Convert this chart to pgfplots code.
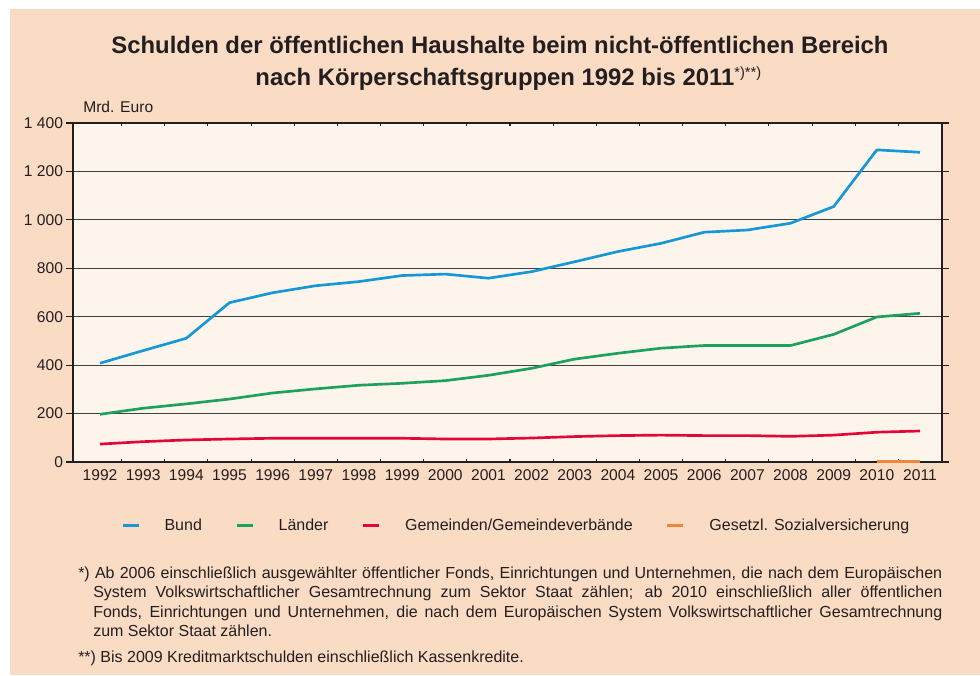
\documentclass[border=0pt]{standalone}
\usepackage{pgfplots}
\pgfplotsset{compat=1.18}
\usepackage{fontspec}
\setmainfont{Liberation Sans}
\definecolor{peach}{RGB}{250,219,196}
\definecolor{plotbg}{RGB}{253,244,235}
\definecolor{cBund}{RGB}{22,152,214}
\definecolor{cLaender}{RGB}{29,161,95}
\definecolor{cGem}{RGB}{226,6,58}
\definecolor{cSoz}{RGB}{240,134,60}
\definecolor{txt}{RGB}{35,31,32}
\begin{document}
\begin{tikzpicture}
\useasboundingbox (0,0) rectangle (735pt,506.25pt);
\fill[white] (0,0) rectangle (735pt,506.25pt);
\fill[peach] (7.5pt,0) rectangle (735pt,499.5pt);
% title
\node[anchor=base, font=\fontsize{17.9}{20}\selectfont\bfseries, text=txt] at (375pt,466pt)
  {Schulden der öffentlichen Haushalte beim nicht-öffentlichen Bereich};
\node[anchor=base, font=\fontsize{17.9}{20}\selectfont\bfseries, text=txt] at (381.5pt,442pt)
  {nach Körperschaftsgruppen 1992 bis 2011\textsuperscript{\normalfont\fontsize{11}{11}\selectfont *)**)}};
\node[anchor=base west, inner sep=0pt, font=\fontsize{11.7}{12}\selectfont, text=txt] at (62.25pt,422pt) {Mrd. Euro};
\begin{axis}[
  at={(54.75pt,159.75pt)}, anchor=south west,
  scale only axis, width=651.75pt, height=254.25pt,
  xmin=1991.374, xmax=2011.51, ymin=0, ymax=1400,
  axis background/.style={fill=plotbg},
  axis line style={line width=1.1pt, color=txt},
  ytick={0,200,400,600,800,1000,1200,1400},
  yticklabels={0,200,400,600,800,{1 000},{1 200},{1 400}},
  xtick={1992,1993,1994,1995,1996,1997,1998,1999,2000,2001,2002,2003,2004,2005,2006,2007,2008,2009,2010,2011},
  xticklabels={1992,1993,1994,1995,1996,1997,1998,1999,2000,2001,2002,2003,2004,2005,2006,2007,2008,2009,2010,2011},
  minor xtick={1992.5,1993.5,1994.5,1995.5,1996.5,1997.5,1998.5,1999.5,2000.5,2001.5,2002.5,2003.5,2004.5,2005.5,2006.5,2007.5,2008.5,2009.5,2010.5},
  major x tick style={draw=none},
  minor x tick style={line width=0.8pt, color=txt},
  minor tick length=2.5pt,
  major tick length=5pt,
  ytick align=outside, xtick align=inside,
  y tick style={line width=0.8pt, color=txt},
  ymajorgrids,
  major grid style={line width=0.7pt, color=black!75},
  ticklabel style={font=\fontsize{11.7}{12}\selectfont, text=txt},
  yticklabel style={xshift=1pt},
  xticklabel style={yshift=-2pt},
  legend style={at={(0.0552,-0.188)}, anchor=west, draw=none, fill=none, inner sep=0pt,
    font=\fontsize{12}{13}\selectfont, text=txt, legend columns=4,
    nodes={inner sep=0pt},
    /tikz/every odd column/.append style={column sep=18.5pt},
    /tikz/every even column/.append style={column sep=25pt}},
  legend image code/.code={\draw[#1, line width=2pt] (0pt,0pt) -- (12pt,0pt);},
  every axis plot/.append style={line width=2pt, line join=round},
]
\addplot[cBund] coordinates {(1992,408) (1993,460) (1994,511) (1995,658) (1996,699) (1997,728) (1998,745) (1999,770) (2000,776) (2001,759) (2002,786) (2003,827) (2004,869) (2005,903) (2006,949) (2007,958) (2008,986) (2009,1055) (2010,1289) (2011,1279)};
\addlegendentry{Bund}
\addplot[cLaender] coordinates {(1992,197) (1993,222) (1994,240) (1995,260) (1996,285) (1997,302) (1998,317) (1999,325) (2000,336) (2001,358) (2002,387) (2003,425) (2004,449) (2005,470) (2006,481) (2007,481) (2008,481) (2009,527) (2010,599) (2011,614)};
\addlegendentry{Länder}
\addplot[cGem] coordinates {(1992,74) (1993,84) (1994,91) (1995,95) (1996,98) (1997,98) (1998,98) (1999,98) (2000,95) (2001,95) (2002,99) (2003,105) (2004,109) (2005,111) (2006,109) (2007,109) (2008,106) (2009,111) (2010,123) (2011,128)};
\addlegendentry{Gemeinden/Gemeindeverbände}
\addplot[cSoz] coordinates {(2010,1.5) (2011,1.5)};
\addlegendentry{Gesetzl. Sozialversicherung}
\end{axis}
% footnotes
\node[anchor=north west, inner sep=0pt, text width=648pt, font=\fontsize{12}{14.6}\selectfont, text=txt, align=justify] at (58.5pt,81.25pt) {%
\hangindent=11.25pt\hangafter=1
*)~Ab 2006 einschließlich ausgewählter öffentlicher Fonds, Einrichtungen und Unternehmen, die nach dem Europäischen\linebreak
System Volkswirtschaftlicher Gesamtrechnung zum Sektor Staat zählen; ab 2010 einschließlich aller öffentlichen\linebreak
Fonds, Einrichtungen und Unternehmen, die nach dem Europäischen System Volkswirtschaftlicher Gesamtrechnung\linebreak
zum Sektor Staat zählen.\par\vspace{4.5pt}
\noindent**)~Bis 2009 Kreditmarktschulden einschließlich Kassenkredite.};
\end{tikzpicture}
\end{document}
